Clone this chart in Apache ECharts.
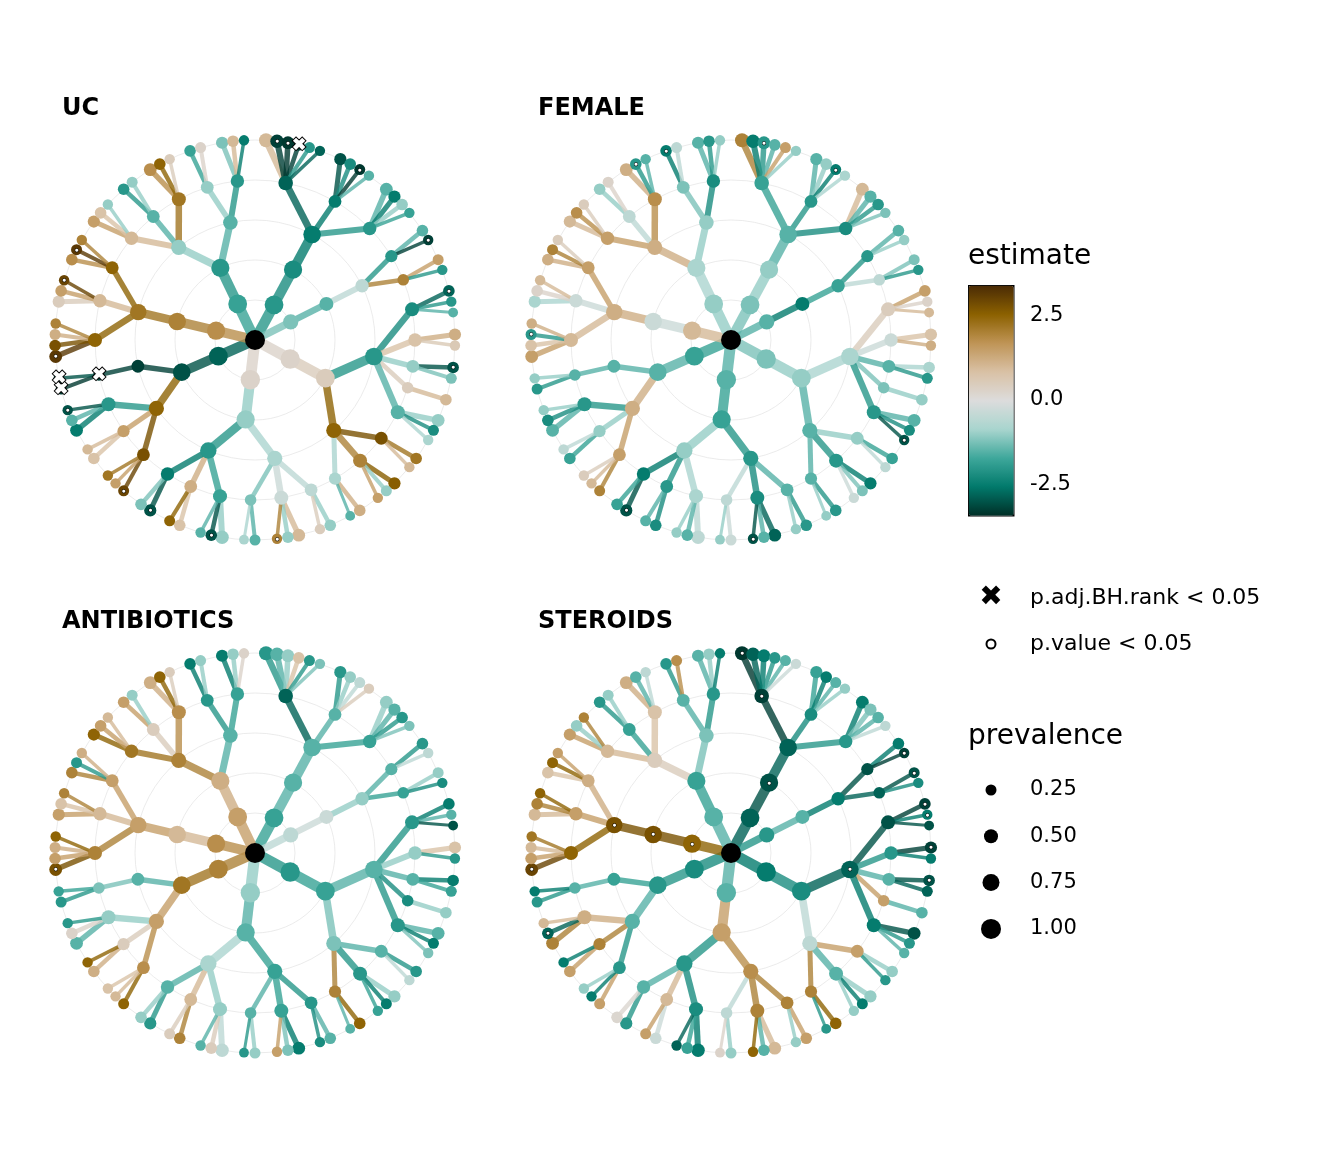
<!DOCTYPE html>
<html><head><meta charset="utf-8">
<script src="https://cdn.jsdelivr.net/npm/echarts@6/dist/echarts.min.js"></script>
<style>html,body{margin:0;background:#fff}#c{width:1344px;height:1152px}</style>
</head><body><div id="c"></div>
<script>
// tree structure: phylum -> classes -> orders -> families (genus counts)
const treeSpec = [
  [[[3,2,2,1,3],[2,3,2]]],
  [[[2,3,2],[3,2,2]]],
  [[[3,2,3],[2]]],
  [[[4,3,3]]],
  [[[3,2,3],[2,3]]],
  [[[6,4,4]]],
  [[[2,2]]]
];
// display order of phyla around the circle (clockwise from top)
const phylumOrder = [5,6,0,1,2,3,4];
const panels = ['UC','FEMALE','ANTIBIOTICS','STEROIDS'];
// prevalence per node (DFS order)
const prevalence = [1,
 .95,.9,.8,.5,.3,.2,.15,.45,.35,.2,.4,.3,.25,.3,.3,.5,.4,.25,.2,.6,.4,.3,.2,.5,.35,.25,.2,.35,.3,.15,
 .95,.85,.6,.4,.3,.2,.5,.4,.3,.2,.3,.25,.15,.7,.5,.45,.3,.2,.4,.3,.25,.45,.35,.3,
 .9,.8,.6,.4,.25,.2,.2,.35,.3,.2,.5,.4,.3,.2,.4,.3,.25,.2,
 .85,.8,.7,.5,.4,.3,.25,.2,.45,.35,.3,.2,.4,.3,.25,.2,
 .9,.85,.6,.45,.35,.3,.2,.4,.3,.25,.5,.4,.3,.2,.55,.4,.3,.25,.45,.35,.3,.2,
 .9,.85,.8,.55,.5,.45,.4,.3,.25,.2,.4,.35,.3,.25,.2,.45,.4,.35,.3,.2,
 .6,.5,.45,.35,.3,.2,.3,.25,.2];
const estUC = [0,
 0.3,0.5,-2.0,-2.2,-2.8,-2.0,-1.5,0.8,1.2,0.6,-1.0,-3.0,-1.2,0.5,1.0,-1.5,-1.0,-2.2,-0.8,2.5,2.8,2.2,1.0,2.0,2.6,-1.0,1.5,-0.8,1.2,-1.5,
 0.3,-1.0,-0.8,-0.5,-1.0,0.5,-0.3,1.0,-1.0,2.0,-1.2,-1.5,-0.8,-2.0,-1.8,-1.0,-3.0,-1.5,1.2,0.8,2.5,-2.5,-3.0,-1.2,
 -2.8,-3.0,2.5,2.8,3.0,1.5,2.2,1.5,0.8,1.0,-2.0,-2.5,-1.5,-3.0,-3.2,-3.2,-3.3,-3.0,
 1.8,2.0,2.2,2.5,3.2,2.8,1.2,2.0,1.0,0.5,1.5,3.0,2.5,1.8,3.2,2.0,
 -1.8,-2.0,-1.0,1.0,1.5,0.8,-1.0,-1.5,-2.0,-1.0,2.2,1.8,2.5,0.5,-1.5,-1.0,-1.8,0.3,-2.0,-1.2,1.0,-2.5,
 -2.0,-2.2,-2.5,-2.8,1.0,-3.2,-3.3,-3.2,-2.0,-2.8,-2.5,-3.0,-2.2,-3.3,-1.5,-2.0,-1.5,-2.5,-1.0,-1.8,
 -1.2,-1.5,-0.5,-2.0,-1.5,-3.2,2.0,1.5,-2.0];
const estFEMALE = [0,
 -1.2,-1.0,-0.8,0.5,1.5,0.3,1.0,-0.3,0.8,1.2,-1.5,-0.8,-2.0,-1.2,-1.0,-2.0,-1.5,-2.2,-3.0,-1.5,-1.0,-1.8,-0.5,-2.0,-2.5,-1.2,-0.3,-1.5,-2.0,-1.0,
 -1.5,-1.8,-2.0,-1.5,-2.0,-1.0,-2.2,-2.8,-1.5,-3.0,-0.5,-0.3,-1.0,-1.0,-0.8,-0.5,-1.5,-1.0,-2.0,-2.2,-1.5,-2.5,-3.0,-1.8,
 -1.8,-1.5,1.2,1.5,2.0,1.0,0.5,-1.0,-1.8,-0.5,-2.0,-1.5,-2.2,-1.0,-1.5,-1.5,-2.0,-1.0,
 1.0,-0.3,1.2,1.0,1.5,0.8,-2.0,1.2,-0.3,-0.8,0.3,1.0,1.5,1.2,2.0,0.5,
 -1.0,-0.8,1.2,1.5,1.0,1.8,0.5,-0.5,-1.0,0.3,1.8,1.2,-2.0,-1.5,-1.0,-1.2,-2.5,-0.5,-2.2,-1.5,-2.0,-1.0,
 -1.2,-1.0,-1.5,-1.8,2.0,-2.5,-2.0,-1.5,1.5,-1.0,-2.0,-1.5,-1.0,-2.5,-0.8,-2.2,1.0,-1.5,-2.0,-1.2,
 -1.5,-2.5,-1.8,-2.0,-1.5,-1.0,-0.5,-1.2,-2.0];
const estANTIBIOTICS = [0,
 -2.0,-1.8,-1.5,-2.0,-2.5,-1.5,-3.0,-1.0,0.8,-2.0,-1.5,-2.5,-1.8,-2.2,-1.0,-2.0,-1.5,-2.5,-1.2,-1.2,-1.5,-2.0,-0.5,-2.0,-1.0,-2.5,-1.8,2.0,2.5,-1.5,
 -1.0,-1.5,-1.8,-2.0,-1.5,-2.2,-1.8,-2.5,-1.2,1.5,-1.5,-1.0,-2.0,-0.8,-1.0,-0.5,0.5,-1.5,1.0,2.0,0.5,-1.5,-2.0,-1.0,
 2.0,2.2,1.5,1.8,2.5,1.0,0.8,0.5,1.2,2.5,-1.0,-1.5,0.3,-2.0,-1.5,-1.2,-2.0,-1.8,
 1.8,1.0,1.5,2.0,2.8,1.5,1.2,2.5,1.0,1.5,0.8,2.0,1.5,2.0,-2.0,1.2,
 1.5,1.2,2.0,2.2,2.5,1.5,1.0,0.5,1.5,-1.0,1.8,1.2,2.5,0.5,-1.5,-2.0,-2.5,-1.0,-1.8,-2.5,-1.0,0.3,
 -1.8,-1.5,-1.5,-2.8,-2.0,-1.5,-1.0,0.8,-2.0,-1.2,-1.5,-2.0,-1.0,-0.5,0.5,-1.8,-1.0,-1.5,-2.0,-1.2,
 -0.5,-0.3,-1.0,-1.5,-2.0,-0.5,-1.8,-1.0,-2.2];
const estSTEROIDS = [0,
 -2.5,-2.2,-2.8,-3.0,-3.2,-2.5,-3.0,-2.0,-3.2,-2.5,-1.5,-3.0,-2.8,1.5,-1.5,-2.5,-3.0,-2.0,-1.5,-0.5,1.5,-1.0,-2.0,-1.5,-1.0,-2.5,-1.0,2.0,2.5,-2.0,
 -1.5,1.5,1.8,2.0,1.5,-1.0,2.0,1.0,-1.5,2.5,-0.5,-1.0,0.3,-2.0,-2.2,-2.5,-1.8,-2.8,1.0,-0.3,1.5,-1.5,-2.0,0.2,
 -2.2,-2.0,-1.5,-2.0,1.5,-2.5,-1.0,2.0,1.5,-2.5,1.2,2.0,-2.8,1.0,-1.8,-1.5,-2.0,-2.5,
 2.5,2.8,2.8,2.5,3.0,1.5,1.0,2.2,1.5,1.0,2.0,2.5,1.2,0.8,2.5,1.5,
 -1.5,-1.8,0.5,1.0,1.5,-1.0,2.0,-1.8,-2.0,-1.0,0.8,1.2,-1.5,-0.5,-1.2,-1.5,-2.0,1.8,-2.0,-1.5,-1.0,-2.5,
 -2.8,-3.0,-2.8,-3.2,-3.3,-2.8,-2.5,-2.0,-1.5,-0.3,-2.2,-1.8,-2.5,-1.5,-1.0,-2.0,-2.5,-1.2,-1.5,-0.5,
 -2.0,-1.5,-2.5,-3.0,-2.5,-3.2,-2.8,-3.0,-2.2];
const pvalSig = {UC:[5,12,47,53,59,68,77,87,116,117,124,136,40,84], FEMALE:[19,40,53,79,101,105,117,124], ANTIBIOTICS:[77], STEROIDS:[3,5,6,9,12,73,74,75,77,112,114,115,136,138,67]};
const padjSig = {UC:[70,71,72,118], FEMALE:[], ANTIBIOTICS:[], STEROIDS:[]};
const estimates = {UC:estUC, FEMALE:estFEMALE, ANTIBIOTICS:estANTIBIOTICS, STEROIDS:estSTEROIDS};
const estTicks = [2.5, 0.0, -2.5];
const prevTicks = [0.25, 0.50, 0.75, 1.00];

const stops = ['#002f27','#01796b','#3ea79b','#a8d5ce','#dcdcdc','#d9c1a5','#bf9456','#8c6100','#4a2b05'];
const vMin=-3.4, vMax=3.4;
function hex(c){return [1,3,5].map(i=>parseInt(c.substr(i,2),16));}
function colorOf(v){
  let t=(v-vMin)/(vMax-vMin)*(stops.length-1); t=Math.max(0,Math.min(stops.length-1,t));
  const i=Math.min(stops.length-2,Math.floor(t)), f=t-i, a=hex(stops[i]), b=hex(stops[i+1]);
  return 'rgb('+a.map((x,k)=>Math.round(x+(b[k]-x)*f)).join(',')+')';
}
const sizeOf = p => 8 + 12*p;
const widthOf = p => 1.5 + 10*p;

function buildTree(panel){
  const est = estimates[panel]; let idx=0;
  function node(depth, kids){
    const i = idx++;
    const isRoot = i===0;
    const col = isRoot ? '#000' : colorOf(est[i]);
    const n = {name: panel+'_'+i, value: est[i],
      symbolSize: isRoot ? 20 : sizeOf(prevalence[i]),
      itemStyle: {color: col},
      lineStyle: {color: col, width: widthOf(prevalence[i]), opacity: 0.8, curveness: 0},
      children: []};
    if (padjSig[panel].includes(i)) n.label={show:true,position:'inside',rotate:0,distance:0,formatter:'✖',color:'#fff',fontSize:17,fontWeight:'bold',textBorderColor:'#000',textBorderWidth:2};
    else if (pvalSig[panel].includes(i)) n.label={show:true,position:'inside',rotate:0,distance:0,formatter:'●',color:'#fff',fontSize:7,textBorderColor:'#000',textBorderWidth:1};
    if (typeof kids === 'number') { for(let g=0; g<kids; g++) n.children.push(node(depth+1,null)); }
    else if (Array.isArray(kids)) { kids.forEach(k=>n.children.push(node(depth+1,k))); }
    return n;
  }
  const root = node(0, treeSpec);
  root.children = phylumOrder.map(j=>root.children[j]);
  return root;
}

const centers = [[255,340],[731,340],[255,853],[731,853]];
const R = 200;
const F='DejaVu Sans';
const option = {animation:false, polar:[], angleAxis:[], radiusAxis:[], title:[], series:[], graphic:[]};
panels.forEach((p,k)=>{
  const [cx,cy]=centers[k];
  option.polar.push({center:[cx,cy], radius:R});
  option.angleAxis.push({polarIndex:k, show:false});
  option.radiusAxis.push({polarIndex:k, min:0, max:5, interval:1, axisLine:{show:false}, axisTick:{show:false}, axisLabel:{show:false}, splitLine:{show:true,lineStyle:{color:'#e3e3e3',width:0.7}}});
  option.title.push({text:p, left:cx-198, top:cy-248, textStyle:{fontFamily:F,fontWeight:'bold',fontSize:24,color:'#000'}});
  option.series.push({type:'tree', layout:'radial', data:[buildTree(p)], left:cx-R, top:cy-R, width:2*R, height:2*R,
    symbol:'circle', initialTreeDepth:-1, expandAndCollapse:false, roam:false, label:{show:false},
    lineStyle:{curveness:0}, emphasis:{disabled:true}, silent:true});
});
option.series.push({type:'scatter', coordinateSystem:'polar', polarIndex:0, data:[]});
option.visualMap = {type:'continuous', min:vMin, max:vMax, seriesIndex:option.series.length-1, left:968, top:285, itemWidth:45, itemHeight:230, text:['',''], calculable:false, showLabel:false, inRange:{color:stops}, padding:0, borderColor:'#000', borderWidth:1.5};
const g = option.graphic;
g.push({type:'text', left:968, top:243, style:{text:'estimate', font:'28px '+F, fill:'#000'}});
estTicks.forEach(v=>{
  const y = 285 + (vMax-v)/(vMax-vMin)*230;
  g.push({type:'text', x:1030, y:y, style:{text:v.toFixed(1), font:'21px '+F, fill:'#000', verticalAlign:'middle'}});
  g.push({type:'line', shape:{x1:968,y1:y,x2:977,y2:y}, style:{stroke:'#fff',lineWidth:1}});
  g.push({type:'line', shape:{x1:1004,y1:y,x2:1013,y2:y}, style:{stroke:'#fff',lineWidth:1}});
});
g.push({type:'text', x:991, y:598, style:{text:'✖', font:'bold 28px '+F, fill:'#000', align:'center', verticalAlign:'middle'}});
g.push({type:'text', x:1030, y:598, style:{text:'p.adj.BH.rank < 0.05', font:'22px '+F, fill:'#000', verticalAlign:'middle'}});
g.push({type:'circle', shape:{cx:991, cy:644, r:4.5}, style:{fill:'#fff', stroke:'#000', lineWidth:2}});
g.push({type:'text', x:1030, y:644, style:{text:'p.value < 0.05', font:'22px '+F, fill:'#000', verticalAlign:'middle'}});
g.push({type:'text', left:968, top:723, style:{text:'prevalence', font:'28px '+F, fill:'#000'}});
prevTicks.forEach((v,i)=>{
  const y = 790 + i*46.3;
  g.push({type:'circle', shape:{cx:991, cy:y, r:sizeOf(v)/2}, style:{fill:'#000'}});
  g.push({type:'text', x:1030, y:y, style:{text:v.toFixed(2), font:'21px '+F, fill:'#000', verticalAlign:'middle'}});
});
const chart = echarts.init(document.getElementById('c'));
chart.setOption(option);
</script></body></html>
